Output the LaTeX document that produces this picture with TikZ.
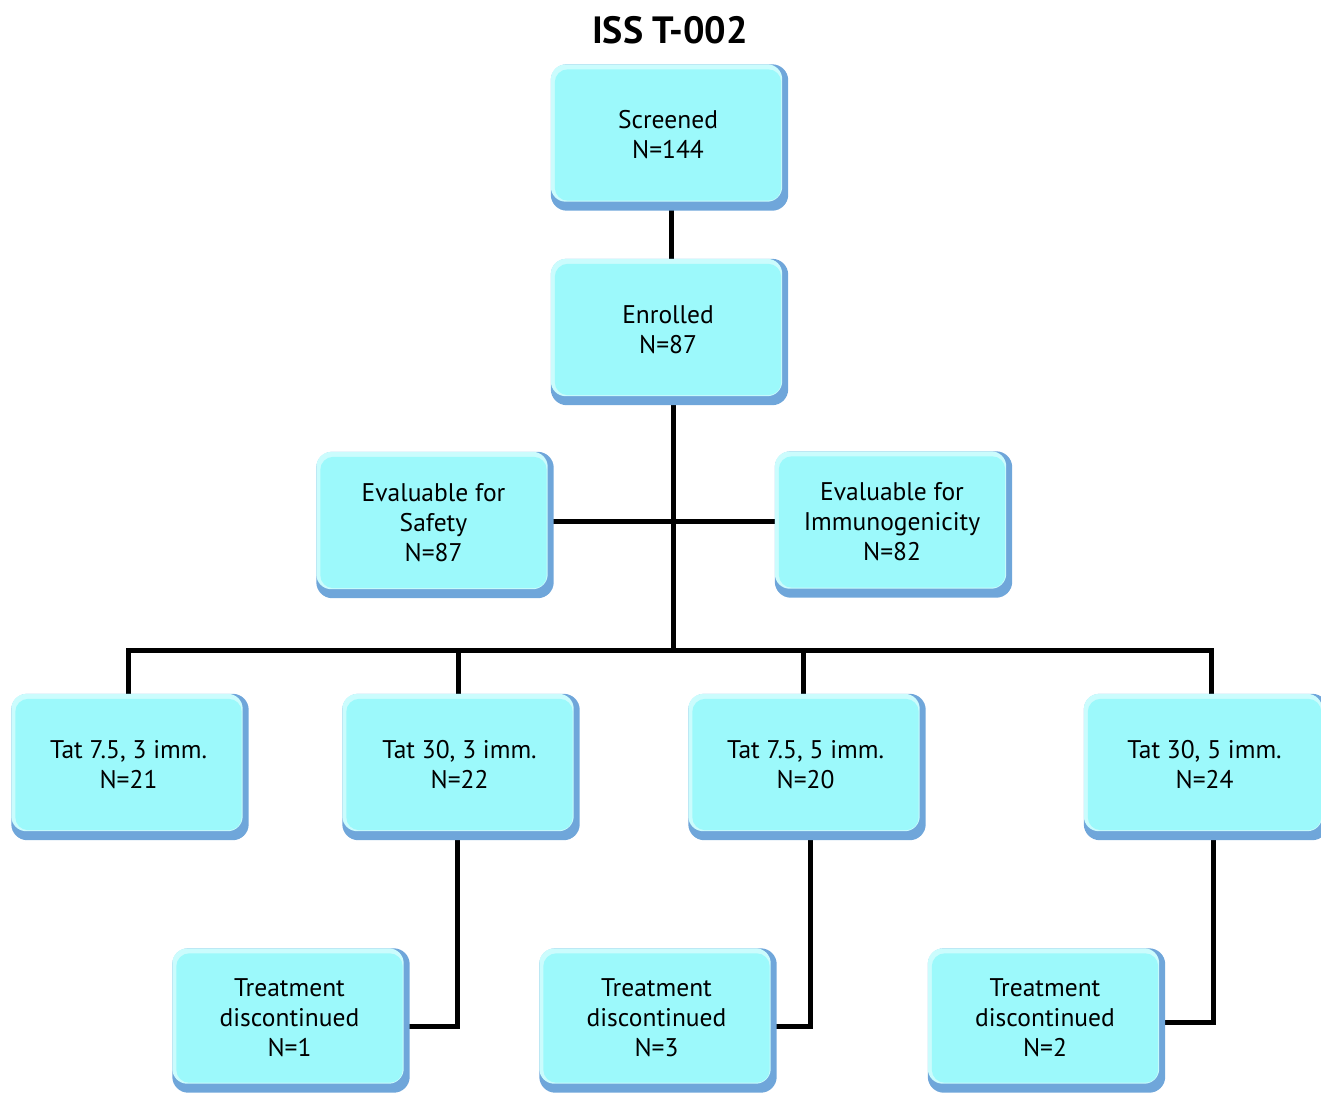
\documentclass[tikz,border=0pt]{standalone}
\usepackage{fontspec}
\setmainfont{PT Sans}
\usetikzlibrary{backgrounds}
\definecolor{face}{HTML}{9CF9FB}
\definecolor{rim}{HTML}{6FA6DA}
\definecolor{hl}{HTML}{CBFCFD}
\tikzset{
  x=1pt, y=-1pt,
  box/.style={minimum width=226pt, minimum height=131pt, inner sep=0pt, align=center,
    font=\fontsize{25.5}{30}\selectfont, text=black},
  conn/.style={line width=5pt, black},
}
\begin{document}
\begin{tikzpicture}
\useasboundingbox (0,0) rectangle (1321,1093);
\node[font=\fontsize{38}{40}\selectfont\bfseries] (title) at (670,30) {ISS T-002};
\node[box] (scr) at (668,135) {Screened\\N=144};
\node[box] (enr) at (668,329.5) {Enrolled\\N=87};
\node[box] (saf) at (433.5,522.5) {Evaluable for\\Safety\\N=87};
\node[box] (imm) at (892,522) {Evaluable for\\Immunogenicity\\N=82};
\node[box] (t1) at (128.5,764.5) {Tat 7.5, 3 imm.\\N=21};
\node[box] (t2) at (459.5,764.5) {Tat 30, 3 imm.\\N=22};
\node[box] (t3) at (805.5,764.5) {Tat 7.5, 5 imm.\\N=20};
\node[box, minimum width=233pt] (t4) at (1204.5,764.5) {Tat 30, 5 imm.\\N=24};
\node[box, minimum height=129pt] (d1) at (289.5,1018) {Treatment\\discontinued\\N=1};
\node[box, minimum height=129pt] (d2) at (656.5,1018) {Treatment\\discontinued\\N=3};
\node[box, minimum height=129pt] (d3) at (1045,1018) {Treatment\\discontinued\\N=2};
\coordinate (bus) at (673,650);
\begin{scope}[on background layer]
  \draw[conn] ([xshift=3pt]scr.south) -- ([xshift=3pt]enr.north);
  \draw[conn] ([xshift=5pt]enr.south) -- ([xshift=5pt]enr.south |- bus);
  \draw[conn] ([yshift=1pt]saf.east) -- ([yshift=1pt]saf.east -| imm.west);
  \draw[conn] (t1.north) |- ([xshift=6.5pt]t4.north |- bus) -- ([xshift=6.5pt]t4.north);
  \draw[conn] ([xshift=-1.5pt]t2.north) -- ([xshift=-1.5pt]t2.north |- bus);
  \draw[conn] ([xshift=-2.5pt]t3.north) -- ([xshift=-2.5pt]t3.north |- bus);
  \draw[conn] ([xshift=-2.5pt]t2.south) |- ([yshift=-8pt]d1.east);
  \draw[conn] ([xshift=4.5pt]t3.south) |- ([yshift=-8pt]d2.east);
  \draw[conn] ([xshift=8.5pt]t4.south) |- ([yshift=-4pt]d3.east);
  \foreach \n in {scr,enr,saf,imm,t1,t2,t3,t4,d1,d2,d3}{
    \fill[rim, rounded corners=16pt] ([xshift=-4pt,yshift=5pt]\n.north west) rectangle ([xshift=7pt,yshift=-10pt]\n.south east);
    \fill[hl, rounded corners=15pt] ([xshift=-4pt,yshift=5pt]\n.north west) rectangle ([xshift=1pt,yshift=-1pt]\n.south east);
    \fill[face, rounded corners=13pt] (\n.north west) rectangle (\n.south east);
  }
\end{scope}
\end{tikzpicture}
\end{document}
